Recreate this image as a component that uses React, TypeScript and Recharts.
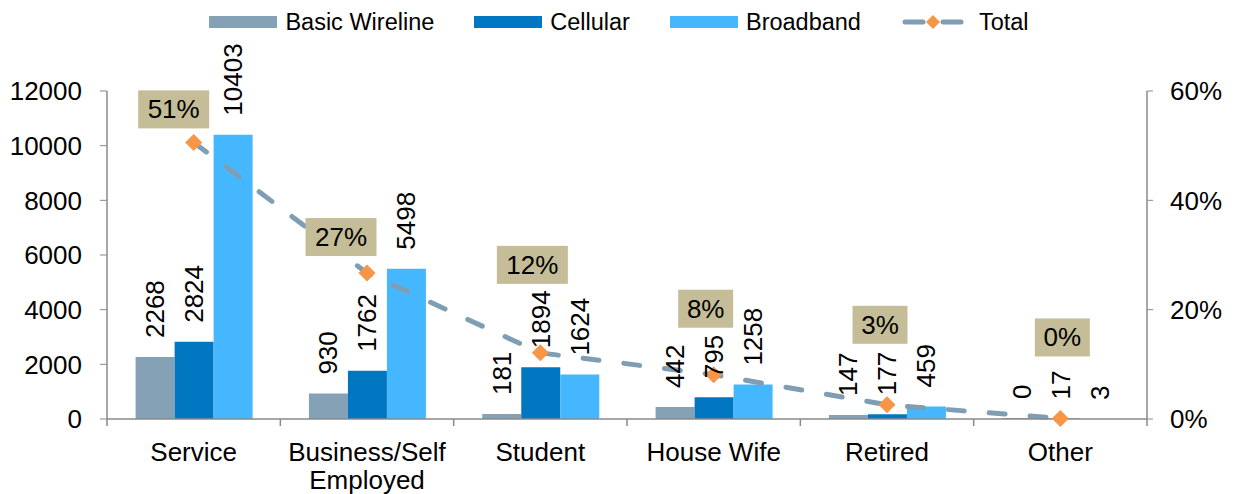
import { ComposedChart, Bar, Line, XAxis, YAxis, Legend, LabelList } from "recharts";

const categories = ["Service", "Business/Self Employed", "Student", "House Wife", "Retired", "Other"];
const categoryLines = [["Service"], ["Business/Self", "Employed"], ["Student"], ["House Wife"], ["Retired"], ["Other"]];
const basicWireline = [2268, 930, 181, 442, 147, 0];
const cellular = [2824, 1762, 1894, 795, 177, 17];
const broadband = [10403, 5498, 1624, 1258, 459, 3];
const totalShare = [0.506, 0.267, 0.121, 0.081, 0.026, 0.001];
const leftTicks = [0, 2000, 4000, 6000, 8000, 10000, 12000];
const rightTicks = [0, 0.2, 0.4, 0.6];

const data = categories.map((c, i) => ({
  category: c,
  basic: basicWireline[i],
  cellular: cellular[i],
  broadband: broadband[i],
  total: totalShare[i],
}));

// hand placed boxes, like the original
const shareLabelOffsets = [
  { dx: -20, dy: -33 },
  { dx: -26, dy: -36 },
  { dx: -8, dy: -88 },
  { dx: -8, dy: -66 },
  { dx: -7, dy: -80 },
  { dx: 2, dy: -81 },
];

const FONT = "'Liberation Sans', Arial, sans-serif";
const AXIS = "#8a8a8a";
const C_BASIC = "#84A1B6";
const C_CELL = "#0077C0";
const C_BROAD = "#44B7FF";
const C_LINE = "#7F9DB3";
const C_DOT = "#F79646";
const C_BOX = "#C4BD97";

const BarLabel = (props: any) => {
  const { x, y, width, value } = props;
  const cx = x + width / 2;
  const ty = y - 19;
  return (
    <text
      x={cx}
      y={ty}
      transform={`rotate(-90, ${cx}, ${ty})`}
      textAnchor="start"
      dominantBaseline="central"
      fontSize={26}
      fontFamily={FONT}
      fill="#000"
    >
      {String(value)}
    </text>
  );
};

const ShareLabel = (props: any) => {
  const { x, y, value, index } = props;
  const text = `${Math.round(value * 100)}%`;
  const w = text.length > 2 ? 71 : 55;
  const h = 38;
  const off = shareLabelOffsets[index] || { dx: 0, dy: -40 };
  const cx = x + off.dx;
  const cy = y + off.dy;
  return (
    <g>
      <rect x={cx - w / 2} y={cy - h / 2} width={w} height={h} fill={C_BOX} />
      <text x={cx} y={cy} textAnchor="middle" dominantBaseline="central" fontSize={26} fontFamily={FONT} fill="#000">
        {text}
      </text>
    </g>
  );
};

const Diamond = (props: any) => {
  const { cx, cy, index } = props;
  const r = 8.5;
  return <path key={`d-${index}`} d={`M${cx},${cy - r}L${cx + r},${cy}L${cx},${cy + r}L${cx - r},${cy}Z`} fill={C_DOT} />;
};

// category labels, with Excel style tick marks on the category boundaries
const CategoryTick = (props: any) => {
  const { x, y, index, width, visibleTicksCount } = props;
  const lines = categoryLines[index] || [];
  const band = (Number(width) || 1040) / (visibleTicksCount || categories.length);
  const left = x - band / 2;
  return (
    <g>
      <line x1={left} y1={y} x2={left} y2={y + 7} stroke={AXIS} strokeWidth={1.5} />
      {index === categories.length - 1 && (
        <line x1={left + band} y1={y} x2={left + band} y2={y + 7} stroke={AXIS} strokeWidth={1.5} />
      )}
      <text x={x} y={y} textAnchor="middle" fontSize={26} fontFamily={FONT} fill="#000">
        {lines.map((l, i) => (
          <tspan key={l} x={x} dy={i === 0 ? 42 : 28}>
            {l}
          </tspan>
        ))}
      </text>
    </g>
  );
};

const LegendBox = () => {
  const item = { display: "flex", alignItems: "center", marginRight: 40 } as const;
  const label = { marginLeft: 8, fontSize: 23.5, fontFamily: FONT, color: "#000", lineHeight: "30px" } as const;
  const swatch = (c: string) => <span style={{ display: "inline-block", width: 68, height: 12, background: c }} />;
  return (
    <div style={{ height: 84, display: "flex", justifyContent: "center", alignItems: "flex-start" }}>
      <div style={item}>
        {swatch(C_BASIC)}
        <span style={label}>Basic Wireline</span>
      </div>
      <div style={item}>
        {swatch(C_CELL)}
        <span style={label}>Cellular</span>
      </div>
      <div style={item}>
        {swatch(C_BROAD)}
        <span style={label}>Broadband</span>
      </div>
      <div style={{ ...item, marginRight: 0 }}>
        <svg width={64} height={18}>
          <line x1={4} y1={9} x2={22} y2={9} stroke={C_LINE} strokeWidth={5} strokeLinecap="round" />
          <line x1={42} y1={9} x2={60} y2={9} stroke={C_LINE} strokeWidth={5} strokeLinecap="round" />
          <path d="M32,2L39,9L32,16L25,9Z" fill={C_DOT} />
        </svg>
        <span style={{ ...label, marginLeft: 14 }}>Total</span>
      </div>
    </div>
  );
};

const zeroMin = (v: any) => (Number(v) === 0 ? 1 : 0);

export default function App() {
  return (
    <div style={{ position: "absolute", left: 0, top: 0, background: "#fff" }}>
      <ComposedChart
        width={1238}
        height={494}
        data={data}
        margin={{ top: 7, right: 0, bottom: 0, left: 0 }}
        barCategoryGap="16.5%"
        barGap={0}
      >
        <Legend verticalAlign="top" content={<LegendBox />} />
        <XAxis
          dataKey="category"
          interval={0}
          height={75}
          axisLine={{ stroke: AXIS, strokeWidth: 1.5 }}
          tickLine={false}
          tickSize={0}
          tickMargin={0}
          tick={<CategoryTick />}
        />
        <YAxis
          yAxisId="left"
          width={107}
          domain={[0, 12000]}
          ticks={leftTicks}
          interval={0}
          axisLine={{ stroke: AXIS, strokeWidth: 1.5 }}
          tickLine={{ stroke: AXIS }}
          tickSize={7}
          tickMargin={18}
          tick={{ fontSize: 26, fontFamily: FONT, fill: "#000" }}
        />
        <YAxis
          yAxisId="right"
          orientation="right"
          width={91}
          domain={[0, 0.6]}
          ticks={rightTicks}
          interval={0}
          tickFormatter={(v: number) => `${Math.round(v * 100)}%`}
          axisLine={{ stroke: AXIS, strokeWidth: 1.5 }}
          tickLine={{ stroke: AXIS }}
          tickSize={6}
          tickMargin={17}
          tick={{ fontSize: 26, fontFamily: FONT, fill: "#000" }}
        />
        <Bar yAxisId="left" dataKey="basic" fill={C_BASIC} minPointSize={zeroMin} isAnimationActive={false}>
          <LabelList dataKey="basic" content={<BarLabel />} />
        </Bar>
        <Bar yAxisId="left" dataKey="cellular" fill={C_CELL} isAnimationActive={false}>
          <LabelList dataKey="cellular" content={<BarLabel />} />
        </Bar>
        <Bar yAxisId="left" dataKey="broadband" fill={C_BROAD} isAnimationActive={false}>
          <LabelList dataKey="broadband" content={<BarLabel />} />
        </Bar>
        <Line
          yAxisId="right"
          dataKey="total"
          stroke={C_LINE}
          strokeWidth={5}
          strokeDasharray="16 25"
          strokeLinecap="round"
          dot={Diamond}
          activeDot={false}
          isAnimationActive={false}
        >
          <LabelList dataKey="total" content={<ShareLabel />} />
        </Line>
      </ComposedChart>
    </div>
  );
}
